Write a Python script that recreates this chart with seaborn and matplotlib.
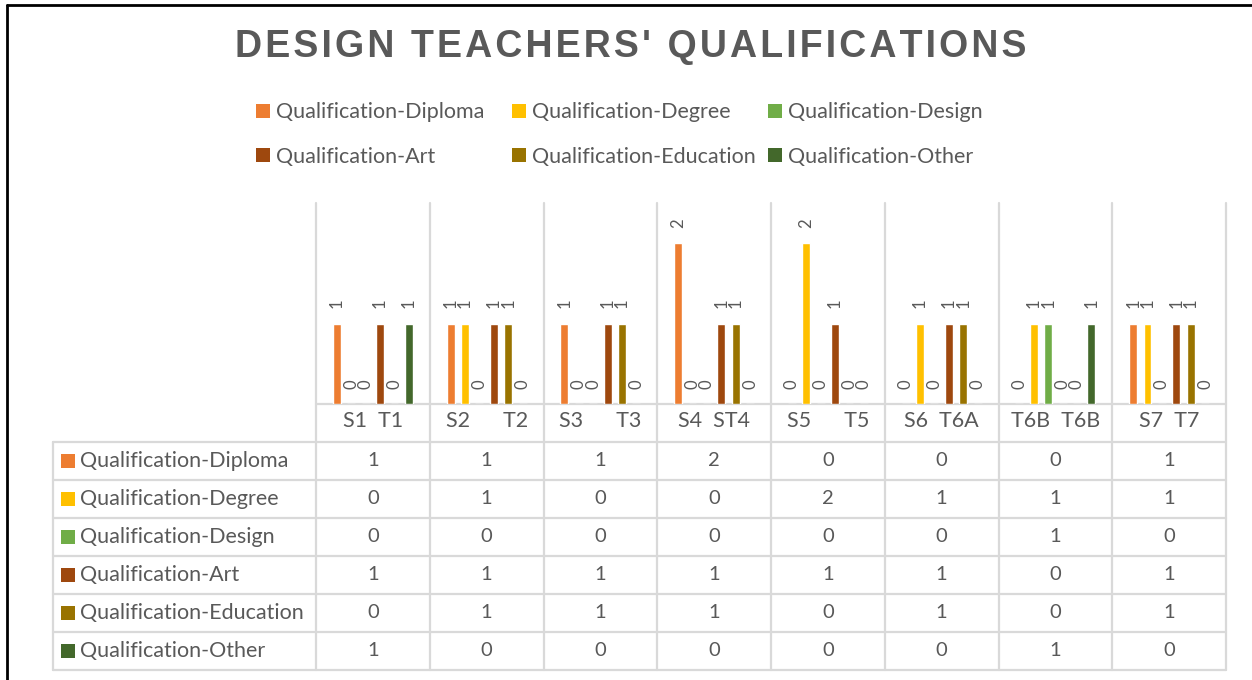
import numpy as np
import pandas as pd
import matplotlib
matplotlib.use("Agg")
import matplotlib.pyplot as plt
import seaborn as sns
from matplotlib.lines import Line2D
from matplotlib.patches import Rectangle, Patch
from matplotlib.transforms import blended_transform_factory

# ---------------- data ----------------
categories = ["S1  T1", "S2      T2", "S3      T3", "S4  ST4",
              "S5      T5", "S6  T6A", "T6B  T6B", "S7  T7"]
series_names = ["Qualification-Diploma", "Qualification-Degree", "Qualification-Design",
                "Qualification-Art", "Qualification-Education", "Qualification-Other"]
diploma = [1, 1, 1, 2, 0, 0, 0, 1]
degree = [0, 1, 0, 0, 2, 1, 1, 1]
design = [0, 0, 0, 0, 0, 0, 1, 0]
art = [1, 1, 1, 1, 1, 1, 0, 1]
education = [0, 1, 1, 1, 0, 1, 0, 1]
other = [1, 0, 0, 0, 0, 0, 1, 0]
colors = ["#ED7D31", "#FFC000", "#70AD47", "#9E480E", "#997300", "#43682B"]
title = "DESIGN TEACHERS' QUALIFICATIONS"

series_values = [diploma, degree, design, art, education, other]
df = pd.DataFrame({"category": categories})
for name, vals in zip(series_names, series_values):
    df[name] = vals
long = df.melt(id_vars="category", var_name="series", value_name="value")

# ---------------- figure ----------------
sns.set_theme(style="white")
plt.rcParams['font.family'] = ['Lato', 'DejaVu Sans']
TXT = "#595959"
GRID = "#D9D9D9"

W, H = 1252, 680
fig = plt.figure(figsize=(W / 100, H / 100), dpi=100)
fig.patch.set_facecolor("white")


def fx(px):
    return px / W


def fy(py):
    return 1 - py / H


ax = fig.add_axes([fx(316), fy(404), fx(1226) - fx(316), fy(203) - fy(404)])
sns.barplot(data=long, x="category", y="value", hue="series", order=categories,
            hue_order=series_names, palette=colors, width=0.76, gap=0.45,
            saturation=1, errorbar=None, legend=False, ax=ax)
ax.set_ylim(0, 2.5)
ax.set_xlim(-0.5, len(categories) - 0.5)
for s in ax.spines.values():
    s.set_visible(False)
ax.set_yticks([])
ax.set_xlabel("")
ax.set_ylabel("")
ax.tick_params(axis="x", length=0, pad=5, labelsize=15.5, labelcolor=TXT)
ax.set_facecolor("none")

for cont in ax.containers:
    ax.bar_label(cont, fmt="%g", rotation=90, padding=11, fontsize=12, color=TXT)

# ---------------- grid / table lines ----------------
trans = blended_transform_factory(ax.transData, fig.transFigure)
for b in np.arange(-0.5, len(categories), 1.0):
    fig.add_artist(Line2D([b, b], [fy(203), fy(670)], transform=trans,
                          color=GRID, lw=1.6, zorder=0))
fig.add_artist(Line2D([fx(316), fx(1226)], [fy(404), fy(404)], color=GRID, lw=1.6, zorder=0))
row_h = 38
table_top = 442
for r in range(len(series_names) + 1):
    yy = table_top + r * row_h
    fig.add_artist(Line2D([fx(53), fx(1226)], [fy(yy), fy(yy)], color=GRID, lw=1.6, zorder=0))
fig.add_artist(Line2D([fx(53), fx(53)], [fy(table_top), fy(table_top + row_h * len(series_names))],
                      color=GRID, lw=1.6, zorder=0))

for r, (name, vals, col) in enumerate(zip(series_names, series_values, colors)):
    yc = table_top + r * row_h + row_h / 2
    fig.add_artist(Rectangle((fx(61), fy(yc + 7)), fx(14), fy(0) - fy(14),
                             facecolor=col, edgecolor="none", transform=fig.transFigure))
    fig.text(fx(80), fy(yc), name, ha="left", va="center", fontsize=15.5, color=TXT)
    for i, v in enumerate(vals):
        fig.text(i, fy(yc), f"{v}", transform=trans, ha="center", va="center",
                 fontsize=14.5, color=TXT)

# ---------------- title & legend ----------------
spaced_title = "\u200a".join(title)
fig.text(fx(631), fy(47), spaced_title, ha="center", va="center", fontsize=27,
         fontweight="bold", color=TXT, family=["Liberation Sans", "DejaVu Sans"])

LFS = 15.5
fs_px = LFS * 100 / 72
for c in range(3):
    idx = [c, c + 3]
    handles = [Patch(facecolor=colors[k], edgecolor="none") for k in idx]
    labels = [series_names[k] for k in idx]
    leg = fig.legend(handles, labels, loc="center left",
                     bbox_to_anchor=(fx(256 + 256 * c), fy(134.5)), ncol=1,
                     frameon=False, fontsize=LFS, borderpad=0, borderaxespad=0,
                     handlelength=14 / fs_px, handleheight=14 / fs_px,
                     handletextpad=6 / fs_px, labelspacing=1.13, labelcolor=TXT)

# ---------------- outer border ----------------
fig.add_artist(Line2D([fx(7), fx(7)], [fy(5), 0], color="black", lw=2))
fig.add_artist(Line2D([fx(7), 1], [fy(5), fy(5)], color="black", lw=2))

fig.savefig("out.png", dpi=100, facecolor="white")
